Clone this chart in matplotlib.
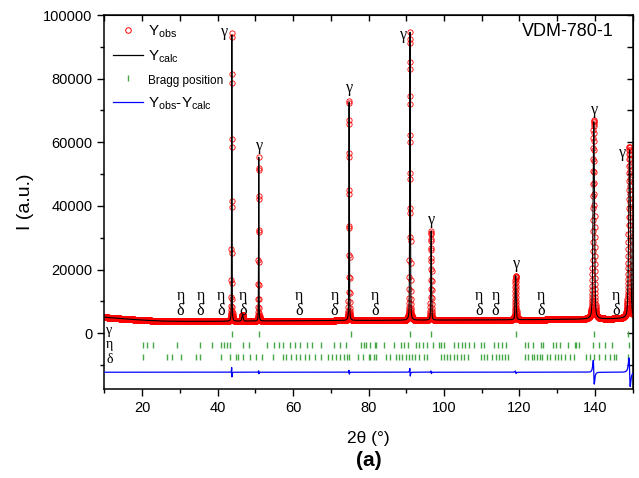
import numpy as np
import matplotlib
matplotlib.use('Agg')
import matplotlib.pyplot as plt
from matplotlib.lines import Line2D

plt.rcParams['font.family'] = ['Liberation Sans', 'DejaVu Sans']
plt.rcParams['mathtext.fontset'] = 'custom'
plt.rcParams['mathtext.rm'] = 'Liberation Sans'
plt.rcParams['mathtext.it'] = 'Liberation Sans:italic'

# gamma reflections: position, height above background, FWHM
gamma_pos = [43.75, 50.9, 74.85, 91.0, 96.6, 119.0, 139.7, 149.2]
gamma_int = [92000, 51500, 69500, 90500, 28000, 13800, 62000, 53000]
gamma_fwhm = [0.12, 0.13, 0.16, 0.2, 0.22, 0.3, 0.45, 0.55]
gamma_diff = [3000, 900, 1200, 2400, 800, 800, 7500, 9000]   # size of residual wiggle

# small delta reflection
minor_pos = [46.6]
minor_int = [2000]
minor_fwhm = [0.4]

# background read at a few angles
bg_tth = [10, 15, 20, 25, 30, 40, 50, 60, 80, 100, 120, 140, 150]
bg_val = [5000, 4500, 4100, 3800, 3700, 3700, 3800, 3900, 4000, 4100, 4200, 4400, 4600]

# Bragg positions
bragg_gamma = [43.9, 51.0, 75.3, 91.1, 96.6, 119.0, 139.7, 148.9]
bragg_eta = [20.2, 21.4, 22.8, 29.3, 35.4, 38.4, 41.0, 41.8, 42.6, 43.4,
             46.6, 48.4, 53.0, 55.0, 56.2, 57.2, 59.2, 60.6, 61.8, 63.8, 65.0, 67.4,
             70.9, 72.4, 74.0, 78.1, 78.7, 79.3,
             80.3, 81.6, 82.0, 84.2, 86.7, 88.6, 89.5, 90.4, 92.6, 93.5, 94.4, 95.5,
             97.0, 98.6, 99.2, 100.1, 102.6, 103.6, 104.7, 105.7, 106.7, 107.9,
             109.8, 110.5, 113.2, 114.4,
             115.5, 116.4, 121.4, 122.3, 123.6, 125.6, 126.2, 128.9, 129.8, 130.7,
             132.9, 134.6, 135.1, 135.8, 139.5, 141.1, 142.8, 144.6, 149.0]
bragg_delta = [20.2, 26.6, 27.8, 30.4, 34.3, 35.2, 40.8, 43.2, 44.8,
               45.3, 46.6, 48.5, 50.1, 51.7, 54.7, 57.2, 58.2, 59.4, 60.7, 61.8, 63.1,
               64.2, 65.8, 67.3, 69.3, 70.4, 71.5, 72.4, 73.5, 74.4, 74.9, 77.1, 78.6, 80.0,
               80.3, 81.4, 82.0, 84.7, 85.6, 87.3, 88.2, 88.9, 89.8, 90.6, 91.5, 92.3,
               93.3, 94.6, 95.5, 99.1, 99.9, 100.8, 101.7, 102.6, 103.5, 104.5, 105.4,
               106.3, 109.7, 110.5, 111.4, 112.7, 113.8, 114.7,
               115.5, 116.1, 117.0, 121.4, 122.3, 123.2, 123.9, 124.7, 125.4, 126.1,
               127.2, 128.2, 129.3, 130.2, 131.1, 132.0, 133.3, 134.4, 137.6, 138.6,
               139.7, 141.1, 142.8, 144.1, 145.0, 145.7, 148.8]

# where eta/delta are marked above the pattern
pair_pos = [30.2, 35.5, 40.9, 46.8, 61.5, 71.0, 81.7, 109.3, 113.7, 125.8, 145.7]

step = 0.02
diff_offset = -12300


def pv(x, c, h, w, eta=0.3):
    u = (x - c) / (w / 2)
    return h * (eta / (1 + u ** 2) + (1 - eta) * np.exp(-np.log(2) * u ** 2))


tth = np.arange(10, 150 + step / 2, step)
ycalc = np.interp(tth, bg_tth, bg_val)
resid = np.zeros_like(tth)
for c, h, w, a in zip(gamma_pos, gamma_int, gamma_fwhm, gamma_diff):
    ycalc += pv(tth, c, h, w)
    u = (tth - c) / (w / 2)
    resid += a * (-u) / (1 + u ** 2) ** 2 / 0.65
for c, h, w in zip(minor_pos, minor_int, minor_fwhm):
    ycalc += pv(tth, c, h, w)
yobs = ycalc + resid

green = '#45a845'
fig = plt.figure(figsize=(6.39, 4.78), dpi=100)
ax = fig.add_axes([0.1635, 0.186, 0.8265, 0.7825])

ax.plot(tth, yobs, 'o', mfc='none', mec='red', ms=3.8, mew=0.6, zorder=2)
ax.plot(tth, ycalc, '-', color='black', lw=0.8, zorder=3)
ax.plot(tth, resid + diff_offset, '-', color='blue', lw=0.9, zorder=3)

ax.plot(bragg_gamma, [-200] * len(bragg_gamma), '|', color=green, ms=4.5, mew=1)
ax.plot(bragg_eta, [-3800] * len(bragg_eta), '|', color=green, ms=4.5, mew=1)
ax.plot(bragg_delta, [-7500] * len(bragg_delta), '|', color=green, ms=4.5, mew=1)

sfont = dict(family=['Liberation Serif', 'DejaVu Serif'], fontsize=11.5,
             ha='center', va='center')
rfont = dict(sfont, fontsize=10)
ax.text(11.3, 800, 'γ', **rfont)
ax.text(11.3, -3700, 'η', **rfont)
ax.text(11.3, -8300, 'δ', **rfont)

for p in pair_pos:
    ax.text(p, 11800, 'η', **sfont)
    ax.text(p, 6800, 'δ', **sfont)

for c, h, w in zip(gamma_pos, gamma_int, gamma_fwhm):
    top = h + np.interp(c, bg_tth, bg_val)
    if top + 3500 > 97000 or c > 147:
        ax.text(c - 1.8, min(top, 95500) - 800, 'γ', **sfont)
    else:
        ax.text(c + 0.2, top + 3600, 'γ', **sfont)

ax.text(0.964, 0.957, 'VDM-780-1', transform=ax.transAxes, ha='right', va='center',
        fontsize=13)

ax.set_xlim(10, 150)
ax.set_ylim(-17600, 100000)
ax.set_xticks(np.arange(20, 141, 20))
ax.set_xticks(np.arange(10, 151, 10), minor=True)
ax.set_yticks(np.arange(0, 100001, 20000))
ax.set_yticks(np.arange(-10000, 100001, 10000), minor=True)
ax.tick_params(which='major', direction='out', length=5, width=1, labelsize=10.5)
ax.tick_params(which='minor', direction='out', length=3, width=1)
for s in ax.spines.values():
    s.set_linewidth(1.1)

top_ax = ax.secondary_xaxis('top')
top_ax.set_xticks(np.arange(10, 151, 10))
top_ax.tick_params(direction='in', length=4, width=1, labeltop=False)
right_ax = ax.secondary_yaxis('right')
right_ax.set_yticks(np.arange(-10000, 100001, 10000))
right_ax.tick_params(direction='in', length=4, width=1, labelright=False)

handles = [Line2D([], [], ls='none', marker='o', mfc='none', mec='red', ms=4, mew=0.7),
           Line2D([], [], color='black', lw=0.9),
           Line2D([], [], ls='none', marker='|', color=green, ms=5, mew=1),
           Line2D([], [], color='blue', lw=0.9)]
labels = ['Y$_{\\mathrm{obs}}$', 'Y$_{\\mathrm{calc}}$', 'Bragg position',
          'Y$_{\\mathrm{obs}}$-Y$_{\\mathrm{calc}}$']
leg = ax.legend(handles, labels, loc='upper left', frameon=False, fontsize=11,
                handlelength=2.0, labelspacing=0.55, borderaxespad=0.35,
                borderpad=0.2, handletextpad=0.3)
leg.get_texts()[2].set_fontsize(8.5)

fig.text(25 / 639, 0.577, 'I (a.u.)', rotation=90, ha='center', va='center',
         fontsize=14)
fig.text(0.577, 1 - 438 / 478, '2θ (°)', ha='center', va='center', fontsize=12.5)
fig.text(0.577, 1 - 461 / 478, '(a)', ha='center', va='center', fontsize=15,
         fontweight='bold')

fig.savefig('out.png', dpi=100)
